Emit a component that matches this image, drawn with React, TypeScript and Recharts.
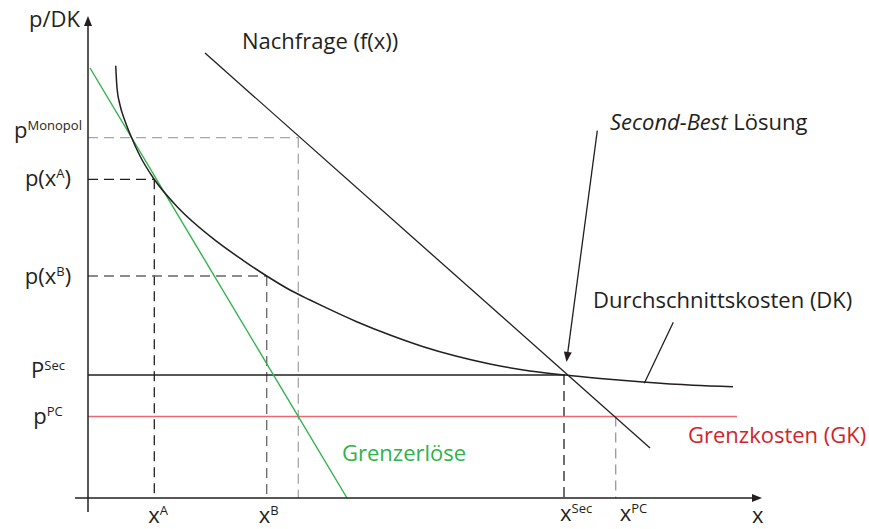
import React from "react";
import { ComposedChart, Line, XAxis, YAxis, ReferenceLine } from "recharts";

// all values in chart units measured from the origin (quantity x, price y)
const priceTicks = [81.5, 123, 222, 318.7, 360.3];
const priceLabels = [
  ["p", "PC", ""],
  ["P", "Sec", ""],
  ["p(x", "B", ")"],
  ["p(x", "A", ")"],
  ["p", "Monopol", ""],
];
const quantityTicks = [66.3, 178.7, 476, 527.7];
const quantityLabels = [
  ["x", "A"],
  ["x", "B"],
  ["x", "Sec"],
  ["x", "PC"],
];

const nachfrage = [
  { x: 117, y: 445 },
  { x: 562, y: 50 },
];
const grenzerloese = [
  { x: 2, y: 430 },
  { x: 259, y: 0 },
];
const grenzkosten = [
  { x: 0, y: 81.5 },
  { x: 649, y: 81.5 },
];
const secondBestPreis = [
  { x: 0, y: 123 },
  { x: 477, y: 123 },
];
const durchschnittskosten = [
  { x: 27.7, y: 432.3 },
  { x: 29, y: 410 },
  { x: 32, y: 393 },
  { x: 37, y: 377 },
  { x: 43.5, y: 360.5 },
  { x: 52, y: 342 },
  { x: 66, y: 319 },
  { x: 88.7, y: 291.8 },
  { x: 128.7, y: 256.6 },
  { x: 155, y: 237.7 },
  { x: 178.7, y: 222 },
  { x: 202, y: 208 },
  { x: 222, y: 198 },
  { x: 235.3, y: 191.6 },
  { x: 268.7, y: 176.3 },
  { x: 302, y: 163 },
  { x: 335.3, y: 151.3 },
  { x: 368.7, y: 141.7 },
  { x: 402, y: 134 },
  { x: 435.3, y: 128 },
  { x: 477, y: 123 },
  { x: 512, y: 119.6 },
  { x: 555, y: 116 },
  { x: 605, y: 112.8 },
  { x: 645, y: 111.3 },
];

// label nudges (px)
const priceLabelDy = [7, 3, 8, 7, 0];
const quantityLabelDx = [-6, -8, -4, 4];
const quantityLabelDy = [25, 25, 23, 23];

const INK = "#231f20";
const FONT = "'Open Sans', sans-serif";

const Arrow = (props: any) => {
  const { x1, y1, x2, y2, stroke, strokeWidth } = props;
  const a = Math.atan2(y2 - y1, x2 - x1);
  const len = 10;
  const half = 4;
  const bx = x2 - len * Math.cos(a);
  const by = y2 - len * Math.sin(a);
  const pts = [
    [x2, y2],
    [bx + half * Math.sin(a), by - half * Math.cos(a)],
    [bx - half * Math.sin(a), by + half * Math.cos(a)],
  ]
    .map((p) => p.join(","))
    .join(" ");
  return (
    <g>
      <line x1={x1} y1={y1} x2={bx} y2={by} stroke={stroke} strokeWidth={strokeWidth} />
      <polygon points={pts} fill={stroke} />
    </g>
  );
};

const PriceTick = (props: any) => {
  const i = props.index;
  const [base, sup, tail] = priceLabels[i];
  return (
    <text x={48} y={props.y + priceLabelDy[i]} textAnchor="middle" fontFamily={FONT} fontSize={22} fill={INK}>
      <tspan>{base}</tspan>
      <tspan fontSize={13} dy={-8}>
        {sup}
      </tspan>
      {tail ? <tspan dy={8}>{tail}</tspan> : null}
    </text>
  );
};

const QuantityTick = (props: any) => {
  const i = props.index;
  const [base, sup] = quantityLabels[i];
  return (
    <text
      x={props.x + quantityLabelDx[i]}
      y={498 + quantityLabelDy[i]}
      textAnchor="start"
      fontFamily={FONT}
      fontSize={22}
      fill={INK}
    >
      <tspan>{base}</tspan>
      <tspan fontSize={13} dy={-8}>
        {sup}
      </tspan>
    </text>
  );
};

export default function App() {
  return (
    <div style={{ position: "absolute", left: 0, top: 0, background: "#fff" }}>
      <ComposedChart width={869} height={529} margin={{ top: 8, right: 101, bottom: 0, left: 8 }}>
        <XAxis
          type="number"
          dataKey="x"
          domain={[0, 680]}
          ticks={quantityTicks}
          interval={0}
          height={31}
          axisLine={false}
          tickLine={false}
          tickSize={0}
          tickMargin={0}
          tick={(p: any) => <QuantityTick {...p} />}
        />
        <YAxis
          type="number"
          domain={[0, 490]}
          ticks={priceTicks}
          interval={0}
          width={80}
          axisLine={false}
          tickLine={false}
          tickSize={0}
          tickMargin={0}
          tick={(p: any) => <PriceTick {...p} />}
        />

        {/* dashed guides */}
        <ReferenceLine segment={[{ x: 0, y: 360.3 }, { x: 210.3, y: 360.3 }]} stroke="#a6a6a6" strokeDasharray="10 6" strokeWidth={1.3} />
        <ReferenceLine segment={[{ x: 210.3, y: 360.3 }, { x: 210.3, y: 0 }]} stroke="#a6a6a6" strokeDasharray="10 6" strokeWidth={1.3} />
        <ReferenceLine segment={[{ x: 0, y: 318.7 }, { x: 66.3, y: 318.7 }]} stroke={INK} strokeDasharray="10 6" strokeWidth={1.3} />
        <ReferenceLine segment={[{ x: 66.3, y: 318.7 }, { x: 66.3, y: 0 }]} stroke={INK} strokeDasharray="10 6" strokeWidth={1.3} />
        <ReferenceLine segment={[{ x: 0, y: 222 }, { x: 178.7, y: 222 }]} stroke="#666" strokeDasharray="10 6" strokeWidth={1.3} />
        <ReferenceLine segment={[{ x: 178.7, y: 222 }, { x: 178.7, y: 0 }]} stroke="#666" strokeDasharray="10 6" strokeWidth={1.3} />
        <ReferenceLine segment={[{ x: 476, y: 123 }, { x: 476, y: 0 }]} stroke={INK} strokeDasharray="10 6" strokeWidth={1.3} />
        <ReferenceLine segment={[{ x: 527.7, y: 81.5 }, { x: 527.7, y: 0 }]} stroke="#999" strokeDasharray="10 6" strokeWidth={1.3} />

        <Line data={grenzkosten} dataKey="y" stroke="#ee6670" strokeWidth={1.6} dot={false} isAnimationActive={false} />
        <Line data={secondBestPreis} dataKey="y" stroke={INK} strokeWidth={1.3} dot={false} isAnimationActive={false} />
        <Line data={grenzerloese} dataKey="y" stroke="#2fb34a" strokeWidth={1.4} dot={false} isAnimationActive={false} />
        <Line data={nachfrage} dataKey="y" stroke={INK} strokeWidth={1.3} dot={false} isAnimationActive={false} />
        <Line data={durchschnittskosten} dataKey="y" type="monotone" stroke={INK} strokeWidth={1.5} dot={false} isAnimationActive={false} />

        {/* axes with arrows */}
        <ReferenceLine segment={[{ x: -13, y: 0 }, { x: 674, y: 0 }]} ifOverflow="visible" stroke={INK} strokeWidth={1.5} shape={Arrow} />
        <ReferenceLine segment={[{ x: 0, y: -14 }, { x: 0, y: 482 }]} ifOverflow="visible" stroke={INK} strokeWidth={1.5} shape={Arrow} />

        {/* annotation pointers */}
        <ReferenceLine segment={[{ x: 509.3, y: 367.3 }, { x: 478.5, y: 136 }]} stroke={INK} strokeWidth={1.3} shape={Arrow} />
        <ReferenceLine segment={[{ x: 585.3, y: 175.7 }, { x: 556.3, y: 114.7 }]} stroke={INK} strokeWidth={1.3} />

        <text x={80} y={27} textAnchor="end" fontFamily={FONT} fontSize={22} fill={INK}>p/DK</text>
        <text x={752} y={523} fontFamily={FONT} fontSize={22} fill={INK}>x</text>
        <text x={242} y={49} fontFamily={FONT} fontSize={22} fill={INK}>Nachfrage (f(x))</text>
        <text x={610} y={130} fontFamily={FONT} fontSize={22} fill={INK}>
          <tspan fontStyle="italic">Second-Best</tspan>
          <tspan> Lösung</tspan>
        </text>
        <text x={593} y={308} fontFamily={FONT} fontSize={22} fill={INK}>Durchschnittskosten (DK)</text>
        <text x={688} y={443} fontFamily={FONT} fontSize={22} fill="#d2232a">Grenzkosten (GK)</text>
        <text x={342} y={461} fontFamily={FONT} fontSize={22} fill="#2fb34a">Grenzerlöse</text>
      </ComposedChart>
    </div>
  );
}
